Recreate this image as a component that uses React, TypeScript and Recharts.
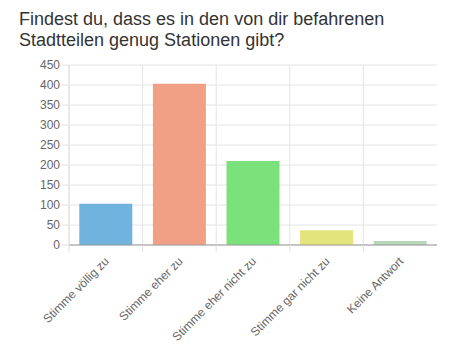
import React from 'react';
import { BarChart, Bar, XAxis, YAxis, CartesianGrid, Cell } from 'recharts';

const categories = ['Stimme völlig zu', 'Stimme eher zu', 'Stimme eher nicht zu', 'Stimme gar nicht zu', 'Keine Antwort'];
const counts = [103, 403, 210, 37, 10];
const colors = ['#6fb3de', '#f2a085', '#7be17b', '#e3e57b', '#b8d6b8'];
const yTicks = [0, 50, 100, 150, 200, 250, 300, 350, 400, 450];

const data = categories.map((name, i) => ({ name, value: counts[i] }));

const FONT = '"Liberation Sans", Arial, sans-serif';

const XTick = (props: any) => {
  const { x, y, payload } = props;
  const half = payload && payload.offset ? payload.offset : 36.7;
  const tx = x + 4;
  const ty = y + 9;
  return (
    <g>
      <line x1={x - half} y1={y - 8} x2={x - half} y2={y - 1} stroke="#e0e0e0" />
      <text
        x={tx}
        y={ty}
        textAnchor="end"
        fill="#666"
        fontSize={12}
        fontFamily={FONT}
        transform={`rotate(-45, ${tx}, ${ty})`}
      >
        {payload.value}
      </text>
    </g>
  );
};

export default function App() {
  return (
    <div style={{ position: 'absolute', left: 0, top: 0, width: 470, height: 362, background: '#fff' }}>
      <div
        style={{
          position: 'absolute',
          left: 19,
          top: 9,
          fontFamily: FONT,
          fontSize: 18,
          lineHeight: '21px',
          color: '#333',
          width: 440,
        }}
      >
        Findest du, dass es in den von dir befahrenen<br />Stadtteilen genug Stationen gibt?
      </div>
      <div style={{ position: 'absolute', left: 0, top: 0 }}>
        <BarChart
          width={470}
          height={362}
          data={data}
          margin={{ top: 65, right: 33, bottom: 7, left: 0 }}
          barCategoryGap="14%"
        >
          <CartesianGrid
            stroke="#e4e4e4"
            verticalCoordinatesGenerator={({ offset }: any) =>
              categories.map((_, i) => offset.left + (i * offset.width) / categories.length)
            }
          />
          <XAxis
            dataKey="name"
            interval={0}
            height={110}
            axisLine={{ stroke: '#999' }}
            tickLine={false}
            tick={<XTick />}
          />
          <YAxis
            width={69}
            domain={[0, 450]}
            ticks={yTicks}
            interval={0}
            tickSize={7}
            axisLine={{ stroke: '#e0e0e0' }}
            tickLine={{ stroke: '#e0e0e0' }}
            tick={{ fill: '#666', fontSize: 12, fontFamily: FONT }}
          />
          <Bar dataKey="value" isAnimationActive={false}>
            {data.map((d, i) => (
              <Cell key={d.name} fill={colors[i]} />
            ))}
          </Bar>
        </BarChart>
      </div>
    </div>
  );
}
